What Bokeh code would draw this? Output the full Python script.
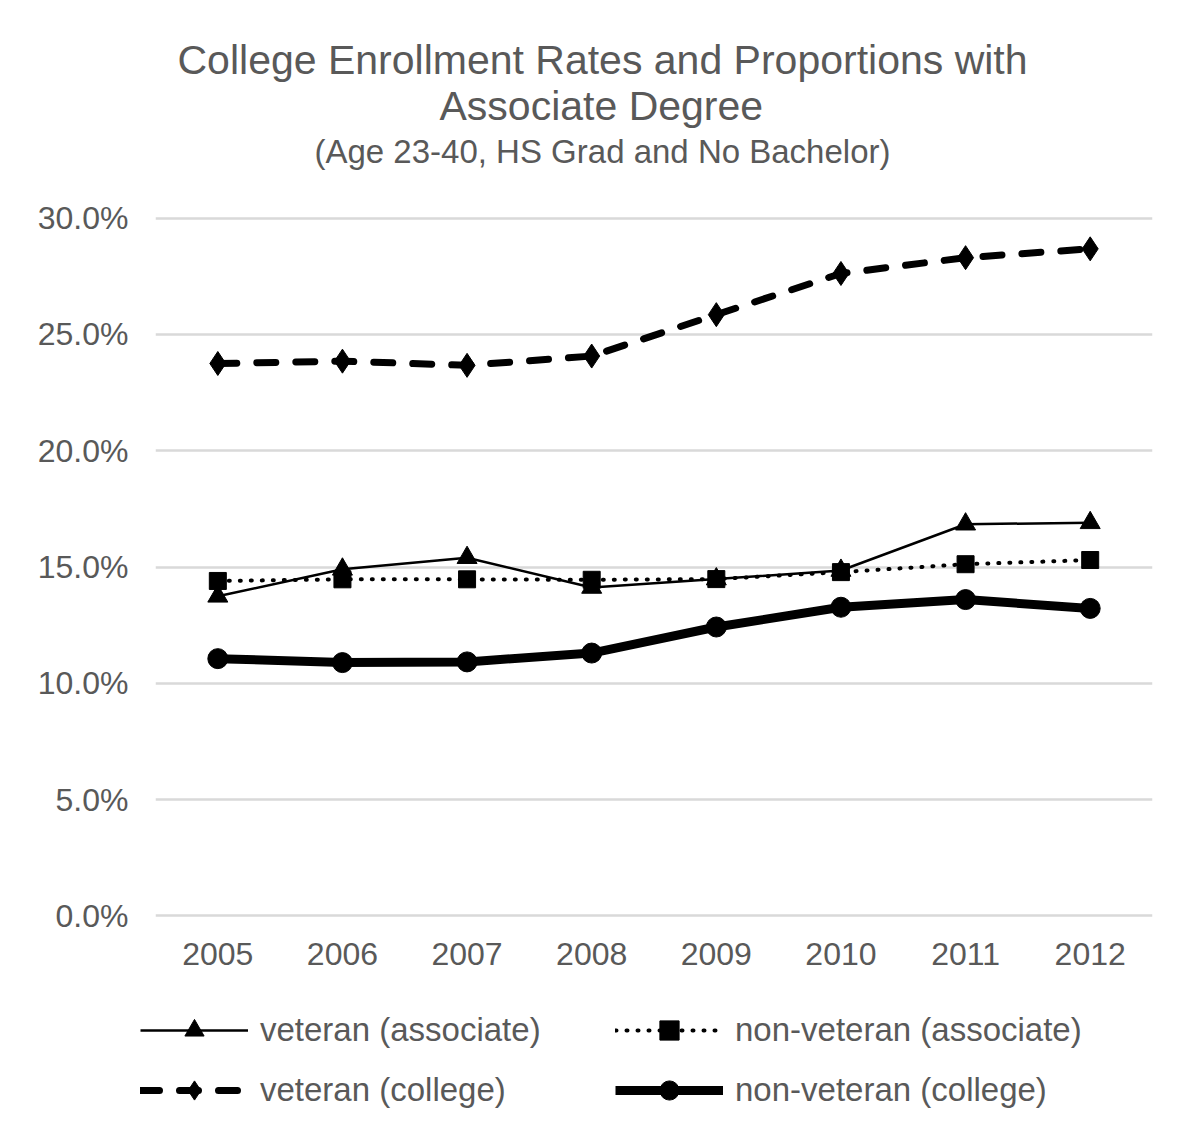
from bokeh.plotting import figure
from bokeh.models import (FactorRange, Range1d, FixedTicker, PrintfTickFormatter,
                          Legend, LegendItem, Title)
from bokeh.embed import file_html
from bokeh.resources import INLINE

years = ["2005", "2006", "2007", "2008", "2009", "2010", "2011", "2012"]
vet_assoc = [13.74, 14.90, 15.40, 14.12, 14.48, 14.85, 16.84, 16.90]
nonvet_assoc = [14.40, 14.47, 14.47, 14.45, 14.48, 14.78, 15.12, 15.30]
vet_college = [23.75, 23.85, 23.67, 24.07, 25.85, 27.62, 28.30, 28.68]
nonvet_college = [11.06, 10.89, 10.92, 11.30, 12.42, 13.27, 13.60, 13.22]
y_ticks = [0, 5, 10, 15, 20, 25, 30]
series_labels = ["veteran (associate)", "non-veteran (associate)",
                 "veteran (college)", "non-veteran (college)"]

title_lines = ["College Enrollment  Rates and Proportions with", "Associate Degree"]
subtitle = "(Age 23-40, HS Grad and No Bachelor)"

FONT = "Liberation Sans"
GRAY = "#595959"

styles = [
    dict(line=dict(line_color="black", line_width=2.5),
         marker=dict(marker="triangle", size=20, color="black")),
    dict(line=dict(line_color="black", line_width=4, line_dash="1 10", line_cap="round"),
         marker=dict(marker="square", size=17, color="black")),
    dict(line=dict(line_color="black", line_width=7, line_dash="19 20", line_cap="round"),
         marker=dict(marker="diamond", size=24, color="black")),
    dict(line=dict(line_color="black", line_width=9),
         marker=dict(marker="circle", size=20, color="black")),
]
series = [vet_assoc, nonvet_assoc, vet_college, nonvet_college]

# ---------------- main chart ----------------
p = figure(width=1184, height=990, x_range=FactorRange(*years, range_padding=0),
           y_range=Range1d(-0.5, 30.5), output_backend="svg", toolbar_location=None,
           title=None,
           min_border_left=155, min_border_right=32, min_border_top=206, min_border_bottom=63)
p.outline_line_color = None
p.xgrid.grid_line_color = None
p.ygrid.grid_line_color = "#d9d9d9"
p.ygrid.grid_line_width = 2.5
p.yaxis.ticker = FixedTicker(ticks=y_ticks)
p.yaxis.formatter = PrintfTickFormatter(format="%.1f%%")
for ax in (p.xaxis[0], p.yaxis[0]):
    ax.axis_line_color = None
    ax.major_tick_line_color = None
    ax.minor_tick_line_color = None
    ax.major_label_text_font = FONT
    ax.major_label_text_font_size = "32px"
    ax.major_label_text_color = GRAY
p.yaxis.major_label_standoff = 21
p.xaxis.major_label_standoff = 9

for vals, st in zip(series, styles):
    p.line(years, vals, **st["line"])
    p.scatter(years, vals, **st["marker"])

# titles: stacked above the frame; the first added sits closest to the frame
p.add_layout(Title(text=subtitle, align="left", offset=159, text_font=FONT, text_font_size="33px",
                   text_font_style="normal", text_color=GRAY, standoff=74), "above")
p.add_layout(Title(text=title_lines[1], align="left", offset=284, text_font=FONT, text_font_size="41px",
                   text_font_style="normal", text_color=GRAY, standoff=-71), "above")
p.add_layout(Title(text=title_lines[0], align="left", offset=22, text_font=FONT, text_font_size="41px",
                   text_font_style="normal", text_color=GRAY, standoff=21), "above")

# ---------------- legend strip (separate root, placed below the chart) ----------------
lg = figure(width=1184, height=136, x_range=FactorRange(*years), y_range=Range1d(100, 101),
            output_backend="svg", toolbar_location=None, title=None,
            min_border_left=0, min_border_right=0, min_border_top=0, min_border_bottom=0)
lg.axis.visible = False
lg.grid.visible = False
lg.outline_line_color = None
items = []
for lab, vals, st in zip(series_labels, series, styles):
    rl = lg.line(years, vals, **st["line"])
    rm = lg.scatter(years, vals, **st["marker"])
    items.append(LegendItem(label=lab, renderers=[rl, rm]))
legend = Legend(items=items, location=(140, 12), orientation="horizontal", ncols=2)
legend.padding = 0
legend.margin = 0
legend.border_line_color = None
legend.background_fill_alpha = 0
legend.glyph_width = 108
legend.glyph_height = 48
legend.spacing = 12
legend.label_standoff = 12
legend.label_width = 343
legend.label_text_font = FONT
legend.label_text_font_size = "33px"
legend.label_text_color = GRAY
lg.add_layout(legend, "center")

open("out.html", "w").write(file_html([p, lg], INLINE))
